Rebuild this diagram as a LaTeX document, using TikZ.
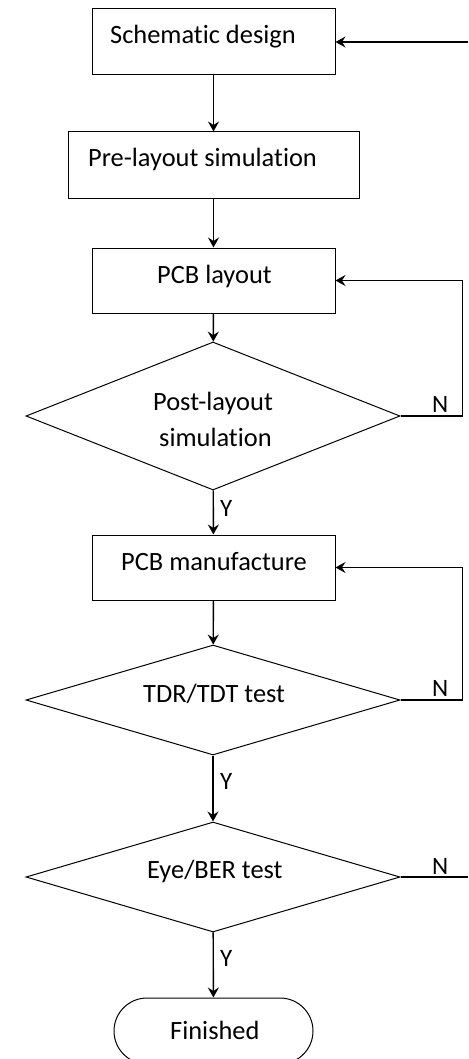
\documentclass[tikz,border=0pt]{standalone}
\usepackage{fontspec}
\setmainfont{Carlito}[Ligatures=NoCommon]
\usetikzlibrary{arrows.meta,shapes.geometric,shapes.misc}
\begin{document}
\begin{tikzpicture}[x=1pt,y=-1pt,
  every node/.style={font=\fontsize{26.4}{30}\selectfont},
  boxshape/.style={draw=black,line width=1pt,rectangle,inner sep=0pt},
  decision/.style={draw=black,line width=1pt,diamond,inner sep=0pt},
  endshape/.style={draw=black,line width=1pt,rounded rectangle,inner sep=0pt},
  txt/.style={inner sep=0pt,anchor=base west,text=black},
  yn/.style={inner sep=0pt,anchor=base west,font=\fontsize{25}{28}\selectfont},
  conn/.style={draw=black,line width=1.4pt},
  arr/.style={conn,-{Stealth[length=10pt,width=11pt,inset=3.5pt]}}]
\useasboundingbox (0,0) rectangle (468,1059);
\clip (0,0) rectangle (468,1059);

% shapes
\node[boxshape,minimum width=243pt,minimum height=66pt] (b1) at (213.5,42) {};
\node[boxshape,minimum width=291pt,minimum height=67pt] (b2) at (213.5,165.5) {};
\node[boxshape,minimum width=243pt,minimum height=65pt] (b3) at (213.5,280.5) {};
\node[decision,minimum width=374pt,minimum height=148pt] (d1) at (213,416) {};
\node[boxshape,minimum width=243pt,minimum height=65pt] (b4) at (213.5,567.5) {};
\node[decision,minimum width=374pt,minimum height=110pt] (d2) at (213,700) {};
\node[decision,minimum width=374pt,minimum height=110pt] (d3) at (213,877) {};
\node[endshape,minimum width=199pt,minimum height=66pt] (fin) at (213.5,1031) {};

% texts
\node[txt] (t1) at (110,44) {Schematic design};
\node[txt] (t2) at (88,167) {Pre-layout simulation};
\node[txt] (t3) at (157,283) {PCB layout};
\node[txt] (t4a) at (153,410) {Post-layout};
\node[txt] (t4b) at (159,446) {simulation};
\node[txt] (t5) at (121,570) {PCB manufacture};
\node[txt] (t6) at (143,702) {TDR/TDT test};
\node[txt] (t7) at (147,878) {Eye/BER test};
\node[txt] (t8) at (170,1039) {Finished};

% labels
\node[yn] (n1) at (432,412.5) {N};
\node[yn] (n2) at (432,696.5) {N};
\node[yn] (n3) at (432,874) {N};
\node[yn] (y1) at (220,516.5) {Y};
\node[yn] (y2) at (220,789) {Y};
\node[yn] (y3) at (220,966) {Y};

% free ends
\coordinate (e0) at (468,42);
\coordinate (e3) at (468,877);

% connectors
\draw[arr] (e0) -- (b1.east);
\draw[arr] (b1) -- (b2);
\draw[arr] (b2) -- (b3);
\draw[arr] (b3) -- (d1);
\draw[arr] (d1) -- (b4);
\draw[arr] (d1.east) -- ++(62,0) |- (b3.east);
\draw[arr] (b4) -- (d2);
\draw[arr] (d2.east) -- ++(62,0) |- (b4.east);
\draw[arr] (d2) -- (d3);
\draw[conn] (d3.east) -- (e3);
\draw[arr] (d3) -- (fin);
\end{tikzpicture}
\end{document}
